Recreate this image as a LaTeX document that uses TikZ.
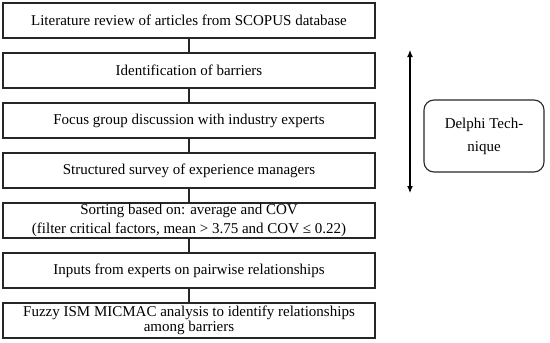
\documentclass[tikz,border=0pt]{standalone}
\usepackage{fontspec}
\setmainfont{Liberation Serif}
\usepackage{tikz}
\usetikzlibrary{arrows.meta,positioning}

\begin{document}
\begin{tikzpicture}[
  x=1pt, y=1pt,
  node distance=15pt,
  box/.style={
    rectangle, draw=black!85, line width=1.3pt, outer sep=0pt,
    minimum width=372pt, minimum height=35pt,
    inner ysep=0pt, align=center,
    font=\fontsize{15}{15}\selectfont
  },
  delphi/.style={
    rectangle, rounded corners=10pt,
    draw=black!85, line width=1.1pt,
    minimum width=120pt, minimum height=72pt,
    align=center, font=\fontsize{15}{23}\selectfont
  },
  link/.style={line width=1.1pt, draw=black!85},
  arr/.style={{Latex[length=7pt,width=6pt]}-{Latex[length=7pt,width=6pt]}, line width=1.2pt}
]
  \useasboundingbox (0,0) rectangle (550,-343);

  \node[box] (lit) at (189,-20.5) {Literature review of articles from SCOPUS database};
  \node[box, below=of lit]    (ident)  {Identification of barriers};
  \node[box, below=of ident]  (focus)  {Focus group discussion with industry experts};
  \node[box, below=of focus]  (survey) {Structured survey of experience managers};
  \node[box, below=of survey] (sort)   {Sorting based on: average and COV\\[4.5pt]
    (filter critical factors, mean > 3.75 and COV ≤ 0.22)};
  \node[box, below=of sort]   (inputs) {Inputs from experts on pairwise relationships};
  \node[box, below=of inputs] (fuzzy)  {Fuzzy ISM MICMAC analysis to identify relationships\\
    among barriers};

  \node[delphi] (tech) at (484,-136) {Delphi Tech-\\nique};

  \coordinate (up)   at (410,-50);
  \coordinate (down) at (410,-193);

  \draw[link] (lit)    -- (ident);
  \draw[link] (ident)  -- (focus);
  \draw[link] (focus)  -- (survey);
  \draw[link] (survey) -- (sort);
  \draw[link] (sort)   -- (inputs);
  \draw[link] (inputs) -- (fuzzy);

  \draw[arr] (up) -- (down);
\end{tikzpicture}
\end{document}
